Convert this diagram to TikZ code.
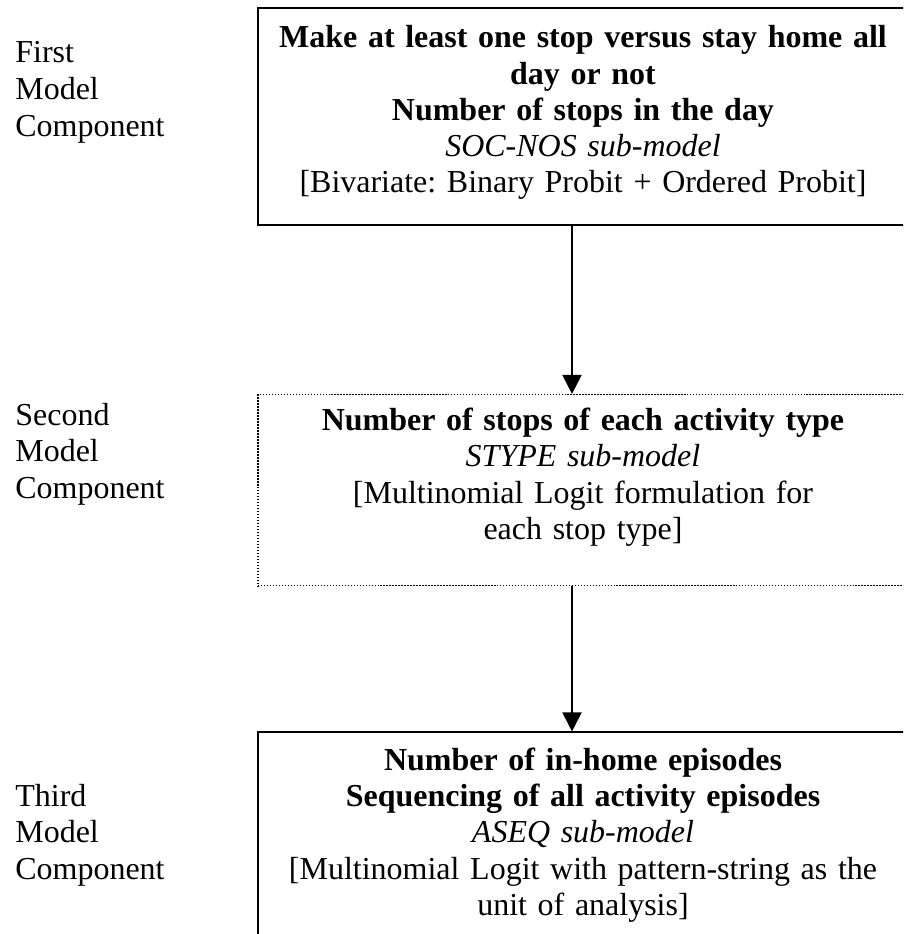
\documentclass[tikz,border=0pt]{standalone}
\usepackage{fontspec}
\setmainfont{Liberation Serif}
\frenchspacing
\usetikzlibrary{arrows.meta, positioning}
\tikzset{
  box/.style={draw, line width=1.1pt, text width=13cm, align=center,
              inner xsep=0pt, inner ysep=0pt, text height=0.76cm,
              font=\fontsize{18.2}{20.6}\selectfont},
  dotbox/.style={box, dash pattern=on 0.85pt off 0.85pt, line width=0.85pt},
  side/.style={text width=5cm, align=left, inner sep=0pt, anchor=base west,
               font=\fontsize{18.2}{20.9}\selectfont},
  flow/.style={line width=1.1pt, -{Triangle[length=0.38cm, width=0.38cm]}},
}
\begin{document}
\begin{tikzpicture}[x=1cm, y=1cm]
  % page frame: the boxes run on past the right and lower edges
  \path[use as bounding box, clip] (0,0) rectangle (18.06,-18.68);
  % sub-models
  \node[box, anchor=north, text height=0.8cm, text depth=3.54cm] (socnos) at (11.66,-0.14)
    {{\bfseries Make at least one stop versus stay home all\\ day or not\\
      Number of stops in the day}\\
     \textit{SOC-NOS sub-model}\\
     {[}Bivariate: Binary Probit + Ordered Probit]};
  \node[dotbox, below=3.36cm of socnos, text height=0.72cm, text depth=3.1cm] (stype)
    {\textbf{Number of stops of each activity type}\\
     \textit{STYPE sub-model}\\
     {[}Multinomial Logit formulation for\\ each stop type]};
  \node[box, below=2.9cm of stype, text depth=5cm] (aseq)
    {{\bfseries Number of in-home episodes\\ Sequencing of all activity episodes}\\
     \textit{ASEQ sub-model}\\
     {[}Multinomial Logit with pattern-string as the\\ unit of analysis]};
  % component labels
  \node[side] (first) at (0.3,-1.26) {First\\ Model\\ Component};
  \node[side] (second) at (0.3,-8.5) {Second\\ Model\\ Component};
  \node[side] (third) at (0.3,-16.12) {Third\\ Model\\ Component};
  % flow between sub-models
  \draw[flow] ([xshift=-0.22cm]socnos.south) -- ([xshift=-0.22cm]stype.north);
  \draw[flow] ([xshift=-0.22cm]stype.south) -- ([xshift=-0.22cm]aseq.north);
\end{tikzpicture}
\end{document}
